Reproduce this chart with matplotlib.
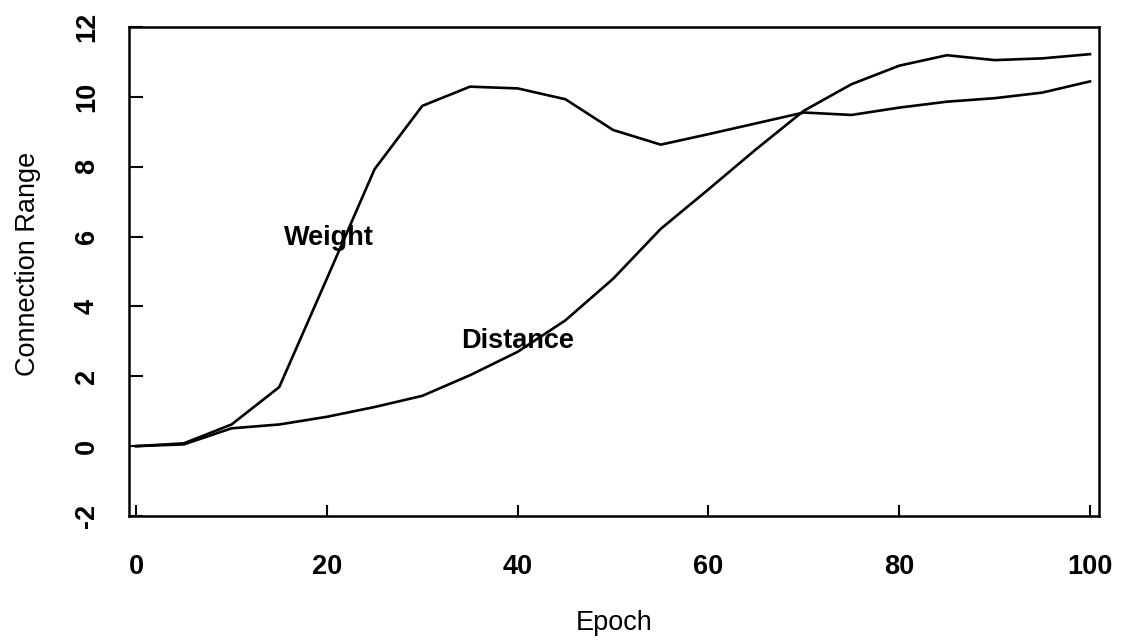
import matplotlib
matplotlib.use("Agg")
import matplotlib.pyplot as plt

# data (every 5 epochs)
epochs = [0, 5, 10, 15, 20, 25, 30, 35, 40, 45, 50,
          55, 60, 65, 70, 75, 80, 85, 90, 95, 100]
weight = [0.0, 0.08, 0.62, 1.69, 4.8, 7.93, 9.74, 10.29, 10.24, 9.93, 9.05,
          8.63, 8.93, 9.24, 9.55, 9.48, 9.69, 9.86, 9.96, 10.12, 10.44]
distance = [0.0, 0.05, 0.51, 0.62, 0.84, 1.12, 1.44, 2.03, 2.7, 3.6, 4.79,
            6.22, 7.35, 8.5, 9.6, 10.36, 10.89, 11.19, 11.05, 11.1, 11.22]

x_ticks = [0, 20, 40, 60, 80, 100]
y_ticks = [-2, 0, 2, 4, 6, 8, 10, 12]

plt.rcParams['font.family'] = ['Liberation Sans', 'DejaVu Sans']

fig = plt.figure(figsize=(11.21, 6.41), dpi=100)
ax = fig.add_axes([0.1151, 0.195, 0.8653, 0.763])

ax.plot(epochs, weight, color='black', lw=1.9)
ax.plot(epochs, distance, color='black', lw=1.9)

# curve labels
ax.text(20.2, 5.95, "Weight", fontsize=19.5, fontweight='bold',
        ha='center', va='center')
ax.text(40.0, 3.0, "Distance", fontsize=19.5, fontweight='bold',
        ha='center', va='center')

ax.set_xlim(-0.75, 100.95)
ax.set_ylim(-2, 12)
ax.set_xticks(x_ticks)
ax.set_yticks(y_ticks)
ax.set_xticklabels([str(v) for v in x_ticks], fontsize=19.5, fontweight='bold')
ax.set_yticklabels([str(v) for v in y_ticks], fontsize=19.5, fontweight='bold',
                   rotation=90, va='center')

ax.tick_params(axis='x', direction='in', length=8, width=1.5, pad=27)
ax.tick_params(axis='y', direction='in', length=10, width=1.5, pad=21)

for s in ax.spines.values():
    s.set_linewidth(1.8)

ax.set_xlabel("Epoch", fontsize=19.5, labelpad=22)
ax.set_ylabel("Connection Range", fontsize=19.5)
ax.yaxis.set_label_coords(-0.091, 0.516)

fig.savefig("out.png", dpi=100)
